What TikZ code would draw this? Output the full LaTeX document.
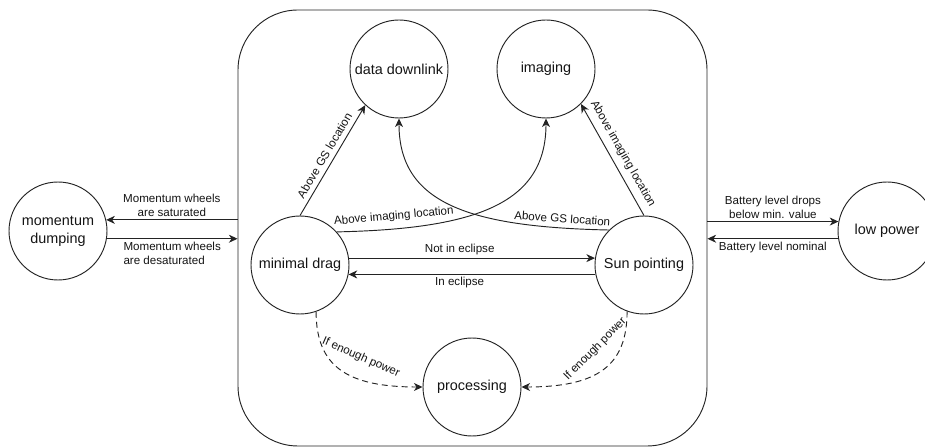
\documentclass[tikz,border=0pt]{standalone}
\usepackage{fontspec}
\setmainfont{Liberation Sans}
\usetikzlibrary{arrows.meta}
\usepackage{xcolor}
\definecolor{edgegrey}{RGB}{35,35,35}
\definecolor{labelink}{RGB}{20,20,20}

\tikzset{
  modecircle/.style={circle,draw=edgegrey,line width=0.7pt,minimum size=73.5pt,
    inner sep=0pt,align=center,text=labelink,font=\fontsize{10.8}{13.5}\selectfont},
  trigger/.style={draw=edgegrey,line width=0.7pt,
    -{Stealth[length=6.5pt,width=6pt,inset=2pt]}},
  guarded/.style={trigger,dash pattern=on 4.5pt off 3pt},
  cond/.style={text=labelink,font=\fontsize{8.7}{10.5}\selectfont,inner sep=2pt}
}

\begin{document}
\begin{tikzpicture}[x=0.75pt,y=-0.75pt]

  \useasboundingbox (0,0) rectangle (925,448);

  % ── NOMINAL MODE FRAME ─────────────────────────────────────────────────────
  \node[draw=edgegrey,line width=0.7pt,rounded corners=45pt,
        minimum width=351.75pt,minimum height=327pt] (nominal) at (472.5,228) {};

  % ── MODES ──────────────────────────────────────────────────────────────────
  \node[modecircle] (dump)     at (58,231)  {momentum\\dumping};
  \node[modecircle] (lowpow)   at (887,231) {low power};
  \node[modecircle] (downlink) at (399,69)  {data downlink};
  \node[modecircle] (imaging)  at (546,69)  {imaging};
  \node[modecircle] (drag)     at (300,265) {minimal drag};
  \node[modecircle] (sunpt)    at (644,265) {Sun pointing};
  \node[modecircle] (proc)     at (472,387) {processing};

  % ── OUTER TRANSITIONS ──────────────────────────────────────────────────────
  \draw[trigger] (dump.13 -| nominal.west) -- (dump.13)
    node[cond,midway,above,align=center] {Momentum wheels\\are saturated};
  \draw[trigger] (dump.-9) -- (dump.-9 -| nominal.west)
    node[cond,midway,below,align=left] {Momentum wheels\\are desaturated};

  \draw[trigger] (lowpow.169 -| nominal.east) -- (lowpow.169)
    node[cond,midway,above,align=center] {Battery level drops\\below min. value};
  \draw[trigger] (lowpow.189) -- (lowpow.189 -| nominal.east)
    node[cond,midway,below] {Battery level nominal};

  % ── POINTING TRANSITIONS ───────────────────────────────────────────────────
  \draw[trigger] (drag.north) -- (downlink.-133)
    node[cond,midway,above=1.5pt,sloped] {Above GS location};
  \draw[trigger] (sunpt.north) -- (imaging.-45)
    node[cond,midway,above=2.5pt,sloped] {Above imaging location};

  \draw[trigger] (drag.42) .. controls +(140,-3) and +(0,85) .. (imaging.south)
    node[cond,pos=0.15,above=3pt,sloped] {Above imaging location};
  \draw[trigger] (sunpt.135) .. controls +(-140,-3) and +(0,85) .. (downlink.south)
    node[cond,pos=0.12,above=1.5pt,sloped] {Above GS location};

  \draw[trigger] (drag.8) -- (sunpt.172)
    node[cond,pos=0.45,above] {Not in eclipse};
  \draw[trigger] (sunpt.191) -- (drag.-11)
    node[cond,pos=0.55,below] {In eclipse};

  % dashed: only when the battery allows it
  \draw[guarded] (drag.-71) .. controls +(0,55) and +(-75,0) .. (proc.west)
    node[cond,pos=0.6,above=9pt,sloped] {If enough power};
  \draw[guarded] (sunpt.-110) .. controls +(0,55) and +(75,0) .. (proc.east)
    node[cond,pos=0.42,above=9pt,sloped] {If enough power};

\end{tikzpicture}
\end{document}
